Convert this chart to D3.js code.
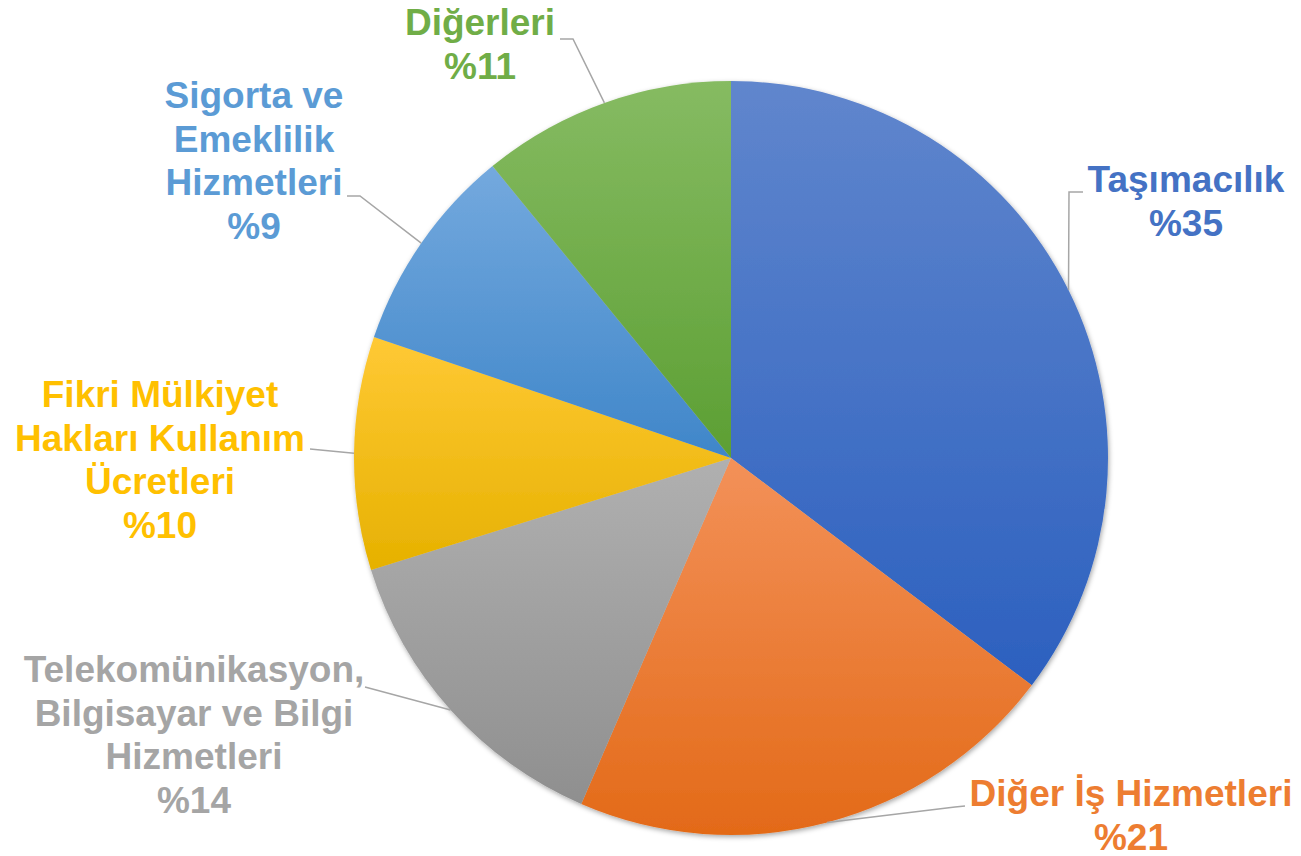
<!DOCTYPE html>
<html>
<head>
<meta charset="utf-8">
<script src="https://cdn.jsdelivr.net/npm/d3@7"></script>
<style>
  html, body { margin: 0; padding: 0; background: #fff; }
  svg { display: block; }
</style>
</head>
<body>
<svg id="main-svg"></svg>
<script>
// sector shares (percent), clockwise from 12 o'clock
const categories = [
    "Taşımacılık",
    "Diğer İş Hizmetleri",
    "Telekomünikasyon, Bilgisayar ve Bilgi Hizmetleri",
    "Fikri Mülkiyet Hakları Kullanım Ücretleri",
    "Sigorta ve Emeklilik Hizmetleri",
    "Diğerleri"
];
// labels show them rounded
const values = [35.3, 21.2, 13.7, 10.0, 8.9, 10.9];

// how each label wraps
const labelLines = [
    ["Taşımacılık"],
    ["Diğer İş Hizmetleri"],
    ["Telekomünikasyon,", "Bilgisayar ve Bilgi", "Hizmetleri"],
    ["Fikri Mülkiyet", "Hakları Kullanım", "Ücretleri"],
    ["Sigorta ve", "Emeklilik", "Hizmetleri"],
    ["Diğerleri"]
];

const baseColors = ["#4472C4", "#ED7D31", "#A5A5A5", "#FFC000", "#5B9BD5", "#70AD47"];
const gradTop    = ["#6086cd", "#f39159", "#b0b0b0", "#ffc935", "#74a9de", "#86bb62"];
const gradBottom = ["#2c60bf", "#e36a18", "#8f8f8f", "#e6b100", "#3f86c9", "#5c9f33"];

const width = 1301, height = 856;
const cx = 731, cy = 458, radius = 377;
const fontSize = 37, lineH = 43.5;

// label placement: centre x, first baseline, leader line points from the label side
const labelLayout = [
    { x: 1186, y: 192, leader: [[1083, 192], [1069, 192]] },
    { x: 1131, y: 806, leader: [[965, 806], [955, 807]] },
    { x: 194,  y: 682, leader: [[365, 687]] },
    { x: 160,  y: 407, leader: [[310, 449]] },
    { x: 254,  y: 108, leader: [[347, 196], [360, 196]] },
    { x: 480,  y: 35,  leader: [[560, 39], [573, 39]] }
];

const svg = d3.select("#main-svg")
    .attr("width", width)
    .attr("height", height);

const defs = svg.append("defs");

const shadow = defs.append("filter")
    .attr("id", "pie-shadow")
    .attr("x", "-10%").attr("y", "-10%")
    .attr("width", "120%").attr("height", "120%");
shadow.append("feDropShadow")
    .attr("dx", 1).attr("dy", 2)
    .attr("stdDeviation", 2.5)
    .attr("flood-color", "#000")
    .attr("flood-opacity", 0.35);

values.forEach((v, i) => {
    const g = defs.append("linearGradient")
        .attr("id", "grad-" + i)
        .attr("x1", 0).attr("y1", 0)
        .attr("x2", 0).attr("y2", 1);
    g.append("stop").attr("offset", "0%").attr("stop-color", gradTop[i]);
    g.append("stop").attr("offset", "100%").attr("stop-color", gradBottom[i]);
});

const pie = d3.pie().sort(null).value(d => d);
const arcs = pie(values);

const arc = d3.arc().innerRadius(0).outerRadius(radius);
const edgeArc = d3.arc().innerRadius(radius).outerRadius(radius);

const pieGroup = svg.append("g")
    .attr("transform", `translate(${cx},${cy})`)
    .attr("filter", "url(#pie-shadow)");

pieGroup.selectAll("path")
    .data(arcs)
    .enter()
    .append("path")
    .attr("d", arc)
    .attr("fill", (d, i) => `url(#grad-${i})`);

// leader lines: from slice midpoint on the rim out to the label
const line = d3.line();
arcs.forEach((d, i) => {
    const rim = edgeArc.centroid(d);
    const pts = [[rim[0] + cx, rim[1] + cy]].concat(labelLayout[i].leader.slice().reverse());
    svg.append("path")
        .attr("d", line(pts))
        .attr("fill", "none")
        .attr("stroke", "#a6a6a6")
        .attr("stroke-width", 1.5);
});

// labels
arcs.forEach((d, i) => {
    const lay = labelLayout[i];
    const lines = labelLines[i].concat(["%" + Math.round(values[i])]);
    const text = svg.append("text")
        .attr("x", lay.x)
        .attr("y", lay.y)
        .attr("text-anchor", "middle")
        .attr("font-family", "'Liberation Sans', Arial, sans-serif")
        .attr("font-weight", "bold")
        .attr("font-size", fontSize + "px")
        .attr("fill", baseColors[i]);
    lines.forEach((t, j) => {
        text.append("tspan")
            .attr("x", lay.x)
            .attr("dy", j === 0 ? 0 : lineH)
            .text(t);
    });
});
</script>
</body>
</html>
